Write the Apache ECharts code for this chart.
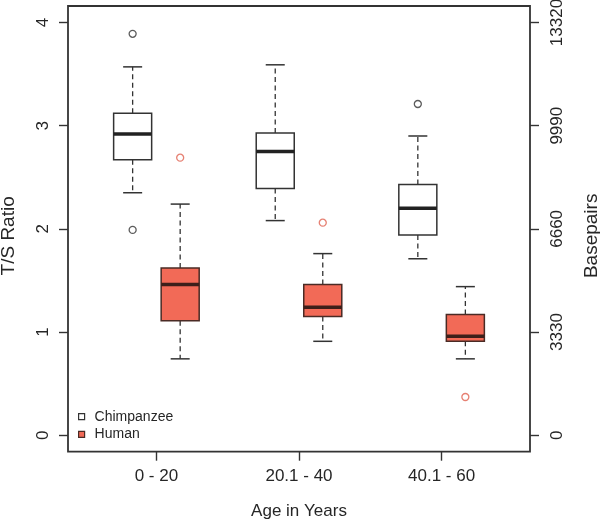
<!DOCTYPE html>
<html>
<head>
<meta charset="utf-8">
<script src="https://cdn.jsdelivr.net/npm/echarts@6/dist/echarts.min.js"></script>
<style>
html,body{margin:0;padding:0;background:#fff;}
#chart{width:600px;height:521px;}
</style>
</head>
<body>
<div id="chart"></div>
<script>
// ---- data ----
const categories = ['0 - 20', '20.1 - 40', '40.1 - 60'];
const seriesNames = ['Chimpanzee', 'Human'];
// box stats: [lower whisker, Q1, median, Q3, upper whisker]
const chimpBoxes = [
  [2.35, 2.67, 2.92, 3.12, 3.57],
  [2.08, 2.39, 2.75, 2.93, 3.59],
  [1.71, 1.94, 2.20, 2.43, 2.90]
];
const humanBoxes = [
  [0.74, 1.11, 1.46, 1.62, 2.24],
  [0.91, 1.15, 1.24, 1.46, 1.76],
  [0.74, 0.91, 0.96, 1.17, 1.44]
];
// outliers: [category index, value]
const chimpOutliers = [[0, 3.89], [0, 1.99], [2, 3.21]];
const humanOutliers = [[0, 2.69], [1, 2.06], [2, 0.37]];
const ratioTicks = [0, 1, 2, 3, 4];
const basepairTicks = [0, 3330, 6660, 9990, 13320];

// ---- layout helpers ----
const groupStep = 3;          // boxes at 1,2 | 4,5 | 7,8
const posOf = (gi, k) => gi * groupStep + 1 + k;
const catTickPos = categories.map((c, i) => posOf(i, 0.5));
const FONT = "'Liberation Sans', Arial, Helvetica, sans-serif";
const TXT = '#262626';
const EDGE = '#333333';
const HUMAN_FILL = '#F26A57';
const HUMAN_EDGE = '#4a2b25';

function boxData(boxes, k) {
  return boxes.map((b, i) => [posOf(i, k)].concat(b));
}
function outData(outs, k) {
  return outs.map(o => [posOf(o[0], k), o[1]]);
}

function makeRender(fill, edge, medColor) {
  return function (params, api) {
    const x = api.value(0);
    const lo = api.coord([x, api.value(1)]);
    const q1 = api.coord([x, api.value(2)]);
    const md = api.coord([x, api.value(3)]);
    const q3 = api.coord([x, api.value(4)]);
    const hi = api.coord([x, api.value(5)]);
    const half = api.size([0.8, 0])[0] / 2;
    const cap = half / 2;
    const cx = lo[0];
    const wStyle = {stroke: EDGE, lineWidth: 1.3, lineDash: [5, 3.5]};
    const sStyle = {stroke: EDGE, lineWidth: 1.5};
    return {
      type: 'group',
      children: [
        {type: 'line', shape: {x1: cx, y1: q3[1], x2: cx, y2: hi[1]}, style: wStyle},
        {type: 'line', shape: {x1: cx, y1: q1[1], x2: cx, y2: lo[1]}, style: wStyle},
        {type: 'line', shape: {x1: cx - cap, y1: hi[1], x2: cx + cap, y2: hi[1]}, style: sStyle},
        {type: 'line', shape: {x1: cx - cap, y1: lo[1], x2: cx + cap, y2: lo[1]}, style: sStyle},
        {type: 'rect', shape: {x: cx - half, y: q3[1], width: 2 * half, height: q1[1] - q3[1]},
          style: {fill: fill, stroke: edge, lineWidth: 1.5}},
        {type: 'line', shape: {x1: cx - half, y1: md[1], x2: cx + half, y2: md[1]},
          style: {stroke: medColor, lineWidth: 3.5}}
      ]
    };
  };
}

const chart = echarts.init(document.getElementById('chart'), null, {renderer: 'canvas'});
const tickStyle = {color: EDGE, width: 1.4};
chart.setOption({
  animation: false,
  backgroundColor: '#fff',
  textStyle: {fontFamily: FONT},
  grid: {left: 68, top: 6, right: 70, bottom: 69.3, show: true, containLabel: false,
    outerBoundsMode: 'none',
    borderColor: EDGE, borderWidth: 1.8, backgroundColor: 'transparent'},
  legend: {
    orient: 'vertical', left: 78, top: 409.7, padding: 0,
    itemWidth: 6, itemHeight: 6, itemGap: 3.6,
    textStyle: {fontSize: 14, color: TXT, fontFamily: FONT, lineHeight: 14, padding: [0, 0, 0, 5]},
    data: [
      {name: seriesNames[0], icon: 'rect', itemStyle: {color: '#fff', borderColor: EDGE, borderWidth: 1.2},
        lineStyle: {width: 0, opacity: 0}},
      {name: seriesNames[1], icon: 'rect', itemStyle: {color: HUMAN_FILL, borderColor: HUMAN_EDGE, borderWidth: 1.2},
        lineStyle: {width: 0, opacity: 0}}
    ]
  },
  xAxis: {
    type: 'value', min: -0.36, max: 9.36,
    axisLine: {show: false, onZero: false}, splitLine: {show: false},
    axisTick: {show: true, length: 9, lineStyle: tickStyle, customValues: catTickPos},
    axisLabel: {customValues: catTickPos, margin: 16, fontSize: 17, color: TXT, fontFamily: FONT,
      formatter: v => categories[Math.round((v - 1.5) / groupStep)]},
    name: 'Age in Years', nameLocation: 'middle', nameGap: 51,
    nameTextStyle: {fontSize: 17, color: TXT, fontFamily: FONT}
  },
  yAxis: [{
    type: 'value', min: -0.16, max: 4.16, position: 'left',
    axisLine: {show: false, onZero: false}, splitLine: {show: false},
    axisTick: {show: true, length: 9, lineStyle: tickStyle, customValues: ratioTicks},
    axisLabel: {customValues: ratioTicks, rotate: 90, margin: 16, fontSize: 17, color: TXT, fontFamily: FONT,
      formatter: v => String(v)},
    name: 'T/S Ratio', nameLocation: 'middle', nameRotate: 90, nameGap: 50,
    nameTextStyle: {fontSize: 19, color: TXT, fontFamily: FONT, padding: [0, 14, 0, 0]}
  }, {
    type: 'value', min: -532.8, max: 13852.8, position: 'right',
    axisLine: {show: false, onZero: false}, splitLine: {show: false},
    axisTick: {show: true, length: 9, lineStyle: tickStyle, customValues: basepairTicks},
    axisLabel: {customValues: basepairTicks, rotate: 90, margin: 19, fontSize: 17, color: TXT, fontFamily: FONT,
      formatter: v => String(v)},
    name: 'Basepairs', nameLocation: 'middle', nameRotate: 90, nameGap: 52,
    nameTextStyle: {fontSize: 19, color: TXT, fontFamily: FONT, padding: [0, 14, 0, 0]}
  }],
  series: [
    {name: seriesNames[0], type: 'custom', renderItem: makeRender('#ffffff', EDGE, '#222'),
      encode: {x: 0, y: [1, 2, 3, 4, 5]}, data: boxData(chimpBoxes, 0), z: 2},
    {name: seriesNames[1], type: 'custom', renderItem: makeRender(HUMAN_FILL, HUMAN_EDGE, '#3d1f1a'),
      encode: {x: 0, y: [1, 2, 3, 4, 5]}, data: boxData(humanBoxes, 1), z: 2},
    {name: seriesNames[0], type: 'scatter', symbol: 'circle', symbolSize: 7,
      itemStyle: {color: 'rgba(0,0,0,0)', borderColor: EDGE, borderWidth: 1.3},
      data: outData(chimpOutliers, 0), z: 3},
    {name: seriesNames[1], type: 'scatter', symbol: 'circle', symbolSize: 7,
      itemStyle: {color: 'rgba(0,0,0,0)', borderColor: '#E0604F', borderWidth: 1.3},
      data: outData(humanOutliers, 1), z: 3}
  ]
});
</script>
</body>
</html>
